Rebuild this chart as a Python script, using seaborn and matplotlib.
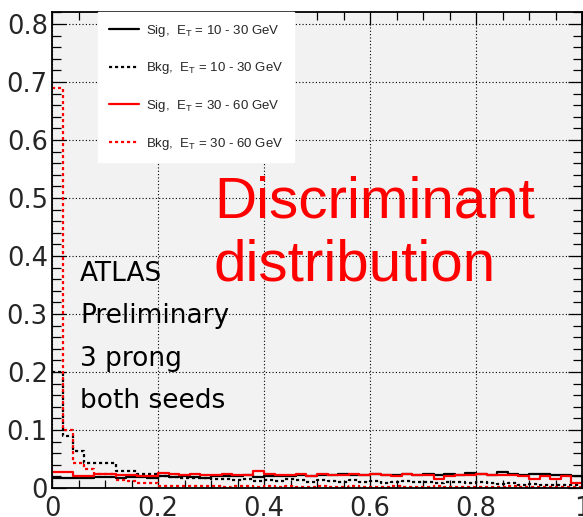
import numpy as np
import matplotlib
matplotlib.use("Agg")
import matplotlib.pyplot as plt
from matplotlib.lines import Line2D
from matplotlib.ticker import MultipleLocator, FixedLocator
import seaborn as sns

# Discriminant histograms, 50 bins of width 0.02 on [0, 1]
bin_edges = [round(0.02 * i, 2) for i in range(51)]

sig_10_30 = [0.018, 0.018, 0.017, 0.018, 0.019, 0.019, 0.018, 0.019, 0.019, 0.018,
             0.020, 0.019, 0.020, 0.019, 0.018, 0.020, 0.021, 0.020, 0.022, 0.019,
             0.021, 0.020, 0.021, 0.022, 0.021, 0.023, 0.022, 0.024, 0.022, 0.023,
             0.024, 0.022, 0.023, 0.025, 0.023, 0.024, 0.022, 0.025, 0.023, 0.026,
             0.024, 0.022, 0.027, 0.024, 0.023, 0.024, 0.024, 0.023, 0.022, 0.020]

bkg_10_30 = [0.200, 0.090, 0.063, 0.043, 0.043, 0.043, 0.029, 0.029, 0.025, 0.025,
             0.021, 0.019, 0.018, 0.017, 0.018, 0.016, 0.015, 0.013, 0.016, 0.012,
             0.014, 0.012, 0.015, 0.013, 0.011, 0.014, 0.012, 0.010, 0.013, 0.011,
             0.012, 0.009, 0.011, 0.012, 0.010, 0.011, 0.009, 0.011, 0.010, 0.008,
             0.011, 0.009, 0.007, 0.008, 0.006, 0.007, 0.005, 0.006, 0.005, 0.006]

sig_30_60 = [0.028, 0.028, 0.021, 0.021, 0.024, 0.024, 0.022, 0.022, 0.021, 0.021,
             0.026, 0.025, 0.023, 0.024, 0.022, 0.023, 0.024, 0.022, 0.023, 0.029,
             0.024, 0.022, 0.023, 0.024, 0.021, 0.024, 0.023, 0.022, 0.024, 0.022,
             0.025, 0.023, 0.021, 0.024, 0.023, 0.022, 0.016, 0.021, 0.023, 0.022,
             0.024, 0.023, 0.022, 0.022, 0.021, 0.016, 0.021, 0.016, 0.021, 0.008]

bkg_30_60 = [0.690, 0.100, 0.043, 0.032, 0.025, 0.025, 0.013, 0.012, 0.009, 0.009,
             0.004, 0.003, 0.003, 0.004, 0.003, 0.003, 0.002, 0.003, 0.003, 0.002,
             0.003, 0.002, 0.003, 0.002, 0.002, 0.003, 0.002, 0.002, 0.003, 0.002,
             0.002, 0.002, 0.003, 0.002, 0.002, 0.002, 0.003, 0.002, 0.002, 0.002,
             0.002, 0.002, 0.002, 0.003, 0.002, 0.002, 0.002, 0.002, 0.002, 0.002]

legend_labels = [r"Sig,  E$_{\rm T}$ = 10 - 30 GeV",
                 r"Bkg,  E$_{\rm T}$ = 10 - 30 GeV",
                 r"Sig,  E$_{\rm T}$ = 30 - 60 GeV",
                 r"Bkg,  E$_{\rm T}$ = 30 - 60 GeV"]

x_tick_values = [0, 0.2, 0.4, 0.6, 0.8, 1.0]
x_tick_labels = ["0", "0.2", "0.4", "0.6", "0.8", "1"]
y_tick_values = [0, 0.1, 0.2, 0.3, 0.4, 0.5, 0.6, 0.7, 0.8]
y_tick_labels = ["0", "0.1", "0.2", "0.3", "0.4", "0.5", "0.6", "0.7", "0.8"]

info_lines = ["ATLAS", "Preliminary", "3 prong", "both seeds"]
title_lines = ["Discriminant", "distribution"]

sns.set_theme(style="ticks")
plt.rcParams["font.family"] = ["DejaVu Sans"]
plt.rcParams["mathtext.fontset"] = "custom"
plt.rcParams["mathtext.rm"] = "Liberation Sans"

W, H = 583, 517
fig = plt.figure(figsize=(W / 100, H / 100), dpi=100)
fig.patch.set_facecolor("white")

# axes frame in pixel units: left 52, right 582, top 12, bottom 488
ax = fig.add_axes([52 / W, (H - 488) / H, 530 / W, 476 / H])
ax.set_facecolor("#f2f2f2")

bin_centers = [(bin_edges[i] + bin_edges[i + 1]) / 2 for i in range(50)]
series = [
    (sig_10_30, "black", "-"),
    (bkg_10_30, "black", (0, (1.4, 1.3))),
    (sig_30_60, "red", "-"),
    (bkg_30_60, "red", (0, (1.4, 1.3))),
]
for vals, col, ls in series:
    sns.histplot(x=bin_centers, weights=vals, bins=bin_edges, element="step",
                 fill=False, color=col, linestyle=ls, linewidth=1.6, ax=ax)

ax.set_xlim(0, 1)
ax.set_ylim(0, 476 / 580)
ax.set_xlabel("")
ax.set_ylabel("")

ax.xaxis.set_major_locator(FixedLocator(x_tick_values))
ax.set_xticklabels(x_tick_labels)
ax.xaxis.set_minor_locator(MultipleLocator(0.05))
ax.yaxis.set_major_locator(FixedLocator(y_tick_values))
ax.set_yticklabels(y_tick_labels)
ax.yaxis.set_minor_locator(MultipleLocator(0.02))

ax.tick_params(axis="both", which="both", direction="in", top=True, right=True,
               color="black", width=0.9)
ax.tick_params(axis="x", which="major", length=9.5, labelsize=18.5, pad=6)
ax.tick_params(axis="x", which="minor", length=5.5)
ax.tick_params(axis="y", which="major", length=10, labelsize=18.5, pad=3)
ax.tick_params(axis="y", which="minor", length=6.5)

for sp in ax.spines.values():
    sp.set_color("black")
    sp.set_linewidth(1.3)

ax.set_axisbelow(True)
ax.grid(True, which="major", linestyle=(0, (1, 2)), color="black", linewidth=0.8)

handles = [Line2D([], [], color=c, linestyle=ls, linewidth=1.6) for _, c, ls in series]
leg = ax.legend(handles, legend_labels, loc="upper left",
                bbox_to_anchor=(46 / 530, 1.0), borderaxespad=0,
                prop={"family": "Liberation Sans", "size": 9.5},
                frameon=True, fancybox=False, framealpha=1.0,
                handlelength=2.3, handletextpad=0.55, labelspacing=1.65,
                borderpad=0.8)
leg.get_frame().set_facecolor("white")
leg.get_frame().set_edgecolor("white")
leg.set_zorder(5)

for i, line in enumerate(title_lines):
    fig.text(214 / W, (H - (218 + 62.7 * i)) / H, line, color="red",
             family="Liberation Sans", fontsize=42, va="baseline", ha="left")

for i, line in enumerate(info_lines):
    fig.text(80 / W, (H - (280.7 + 42.5 * i)) / H, line, color="black",
             family="DejaVu Sans", fontsize=19, va="baseline", ha="left")

fig.savefig("out.png", dpi=100)
